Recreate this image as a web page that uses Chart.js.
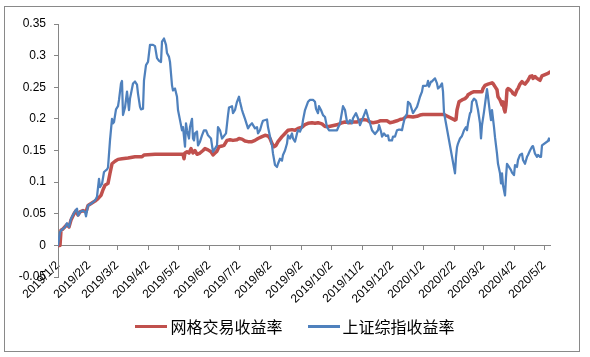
<!DOCTYPE html>
<html><head><meta charset="utf-8">
<script src="https://cdn.jsdelivr.net/npm/chart.js@4.4.0/dist/chart.umd.min.js"></script>
<style>
html,body{margin:0;padding:0;background:#fff;}
#wrap{position:relative;width:590px;height:357px;overflow:hidden;}
#frame{position:absolute;left:4px;top:6px;width:576px;height:346px;border:1px solid #898989;box-sizing:border-box;pointer-events:none;}
#c{position:absolute;left:0;top:0;}
#legend{position:absolute;left:0;top:316px;width:590px;height:20px;display:flex;justify-content:center;align-items:center;font-family:"Noto Sans CJK SC";font-size:16px;line-height:20px;color:#000;}
.item{display:flex;align-items:center;}
.swatch{width:32px;height:3px;margin-right:3px;}
.gap{width:25px;}
</style></head>
<body>
<div id="wrap">
<canvas id="c" width="590" height="357"></canvas>
<div id="frame"></div>
<div id="legend"></div>
</div>
<script>
const seriesNames = ['网格交易收益率', '上证综指收益率'];
const seriesColors = ['#C0504D', '#4F81BD'];

const xTickLabels = ['2019/1/2','2019/2/2','2019/3/2','2019/4/2','2019/5/2','2019/6/2','2019/7/2','2019/8/2','2019/9/2','2019/10/2','2019/11/2','2019/12/2','2020/1/2','2020/2/2','2020/3/2','2020/4/2','2020/5/2'];
const yTickValues = [-0.05,0,0.05,0.1,0.15,0.2,0.25,0.3,0.35];
const yTickLabels = ['-0.05','0','0.05','0.1','0.15','0.2','0.25','0.3','0.35'];
const firstDate = '2019/1/2';
const lastDate = '2020/5/8';

const gridDates = ['2019/1/2','2019/1/4','2019/1/5','2019/1/7','2019/1/11','2019/1/13','2019/1/15','2019/1/18','2019/1/20','2019/1/22','2019/1/24','2019/1/27','2019/1/30','2019/2/1','2019/2/8','2019/2/11','2019/2/14','2019/2/16','2019/2/18','2019/2/21','2019/2/23','2019/2/25','2019/2/28','2019/3/3','2019/3/7','2019/3/13','2019/3/20','2019/3/27','2019/3/29','2019/4/9','2019/5/7','2019/5/8','2019/5/9','2019/5/11','2019/5/13','2019/5/15','2019/5/17','2019/5/19','2019/5/21','2019/5/24','2019/5/27','2019/5/29','2019/6/1','2019/6/4','2019/6/6','2019/6/8','2019/6/10','2019/6/12','2019/6/15','2019/6/17','2019/6/20','2019/6/23','2019/6/26','2019/6/30','2019/7/2','2019/7/5','2019/7/8','2019/7/11','2019/7/15','2019/7/18','2019/7/21','2019/7/25','2019/7/28','2019/7/31','2019/8/2','2019/8/4','2019/8/6','2019/8/8','2019/8/10','2019/8/14','2019/8/17','2019/8/20','2019/8/24','2019/8/27','2019/8/30','2019/9/3','2019/9/6','2019/9/9','2019/9/13','2019/9/16','2019/9/19','2019/9/23','2019/9/26','2019/9/30','2019/10/9','2019/10/13','2019/10/16','2019/10/21','2019/10/24','2019/10/28','2019/10/31','2019/11/3','2019/11/7','2019/11/10','2019/11/13','2019/11/17','2019/11/20','2019/11/27','2019/11/30','2019/12/3','2019/12/7','2019/12/10','2019/12/13','2019/12/17','2019/12/23','2019/12/27','2019/12/30','2020/1/2','2020/1/23','2020/2/3','2020/2/4','2020/2/5','2020/2/7','2020/2/10','2020/2/13','2020/2/15','2020/2/16','2020/2/19','2020/2/22','2020/3/1','2020/3/2','2020/3/4','2020/3/7','2020/3/11','2020/3/12','2020/3/14','2020/3/16','2020/3/17','2020/3/19','2020/3/21','2020/3/22','2020/3/23','2020/3/24','2020/3/25','2020/3/26','2020/3/27','2020/3/29','2020/3/31','2020/4/1','2020/4/3','2020/4/5','2020/4/6','2020/4/8','2020/4/10','2020/4/11','2020/4/13','2020/4/15','2020/4/16','2020/4/18','2020/4/20','2020/4/21','2020/4/23','2020/4/25','2020/4/26','2020/4/28','2020/4/30','2020/5/6','2020/5/7','2020/5/8'];
const gridValues = [0,0,0.024,0.026,0.033,0.029,0.04,0.05,0.055,0.048,0.053,0.055,0.053,0.063,0.07,0.074,0.079,0.088,0.095,0.098,0.114,0.129,0.133,0.136,0.137,0.138,0.14,0.14,0.143,0.144,0.144,0.137,0.146,0.148,0.146,0.153,0.146,0.15,0.144,0.146,0.15,0.153,0.151,0.148,0.143,0.146,0.149,0.156,0.157,0.158,0.166,0.167,0.166,0.167,0.169,0.168,0.165,0.164,0.164,0.166,0.169,0.172,0.174,0.173,0.169,0.161,0.156,0.158,0.164,0.172,0.177,0.182,0.183,0.182,0.185,0.187,0.191,0.193,0.194,0.193,0.194,0.192,0.188,0.188,0.191,0.194,0.195,0.194,0.195,0.195,0.198,0.199,0.198,0.195,0.194,0.195,0.197,0.197,0.194,0.195,0.197,0.199,0.2,0.204,0.203,0.204,0.206,0.207,0.207,0.198,0.199,0.214,0.227,0.23,0.232,0.235,0.238,0.241,0.243,0.243,0.248,0.253,0.255,0.257,0.256,0.251,0.246,0.235,0.23,0.222,0.227,0.216,0.211,0.222,0.246,0.248,0.246,0.243,0.24,0.238,0.246,0.248,0.255,0.259,0.257,0.255,0.259,0.261,0.267,0.268,0.264,0.267,0.264,0.263,0.261,0.268,0.272,0.273,0.274];

const indexDates = ['2019/1/2','2019/1/4','2019/1/6','2019/1/9','2019/1/11','2019/1/13','2019/1/15','2019/1/17','2019/1/19','2019/1/21','2019/1/22','2019/1/25','2019/1/27','2019/1/29','2019/1/30','2019/2/1','2019/2/5','2019/2/8','2019/2/10','2019/2/12','2019/2/13','2019/2/15','2019/2/17','2019/2/20','2019/2/21','2019/2/23','2019/2/25','2019/2/26','2019/2/27','2019/3/1','2019/3/3','2019/3/4','2019/3/6','2019/3/7','2019/3/8','2019/3/10','2019/3/12','2019/3/14','2019/3/15','2019/3/18','2019/3/20','2019/3/22','2019/3/23','2019/3/25','2019/3/26','2019/3/28','2019/3/29','2019/3/31','2019/4/2','2019/4/4','2019/4/7','2019/4/9','2019/4/11','2019/4/13','2019/4/15','2019/4/16','2019/4/18','2019/4/20','2019/4/21','2019/4/23','2019/4/24','2019/4/26','2019/4/27','2019/4/29','2019/5/1','2019/5/2','2019/5/4','2019/5/6','2019/5/7','2019/5/9','2019/5/10','2019/5/11','2019/5/13','2019/5/14','2019/5/16','2019/5/17','2019/5/18','2019/5/19','2019/5/21','2019/5/22','2019/5/24','2019/5/26','2019/5/28','2019/5/30','2019/6/1','2019/6/4','2019/6/5','2019/6/6','2019/6/8','2019/6/10','2019/6/11','2019/6/13','2019/6/15','2019/6/16','2019/6/19','2019/6/21','2019/6/22','2019/6/25','2019/6/26','2019/6/28','2019/6/30','2019/7/2','2019/7/3','2019/7/5','2019/7/6','2019/7/8','2019/7/11','2019/7/13','2019/7/15','2019/7/18','2019/7/20','2019/7/21','2019/7/23','2019/7/25','2019/7/26','2019/7/30','2019/7/31','2019/8/2','2019/8/4','2019/8/5','2019/8/7','2019/8/9','2019/8/10','2019/8/12','2019/8/14','2019/8/15','2019/8/17','2019/8/19','2019/8/20','2019/8/22','2019/8/24','2019/8/25','2019/8/27','2019/8/29','2019/8/30','2019/9/1','2019/9/3','2019/9/4','2019/9/6','2019/9/9','2019/9/11','2019/9/13','2019/9/14','2019/9/16','2019/9/17','2019/9/19','2019/9/20','2019/9/22','2019/9/24','2019/9/26','2019/9/28','2019/9/30','2019/10/8','2019/10/11','2019/10/13','2019/10/14','2019/10/16','2019/10/18','2019/10/19','2019/10/21','2019/10/23','2019/10/24','2019/10/27','2019/10/29','2019/10/31','2019/11/2','2019/11/4','2019/11/6','2019/11/8','2019/11/10','2019/11/12','2019/11/13','2019/11/15','2019/11/17','2019/11/18','2019/11/19','2019/11/21','2019/11/22','2019/11/24','2019/11/26','2019/11/28','2019/11/29','2019/12/2','2019/12/3','2019/12/5','2019/12/7','2019/12/9','2019/12/10','2019/12/12','2019/12/13','2019/12/15','2019/12/17','2019/12/18','2019/12/20','2019/12/22','2019/12/23','2019/12/25','2019/12/27','2019/12/28','2019/12/30','2020/1/1','2020/1/2','2020/1/4','2020/1/6','2020/1/7','2020/1/8','2020/1/10','2020/1/11','2020/1/12','2020/1/14','2020/1/16','2020/1/17','2020/1/19','2020/1/21','2020/1/22','2020/1/23','2020/2/3','2020/2/4','2020/2/5','2020/2/6','2020/2/8','2020/2/10','2020/2/12','2020/2/14','2020/2/15','2020/2/16','2020/2/18','2020/2/19','2020/2/20','2020/2/22','2020/2/24','2020/2/26','2020/2/28','2020/2/29','2020/3/1','2020/3/3','2020/3/5','2020/3/6','2020/3/7','2020/3/9','2020/3/10','2020/3/11','2020/3/13','2020/3/14','2020/3/16','2020/3/17','2020/3/19','2020/3/20','2020/3/21','2020/3/22','2020/3/24','2020/3/25','2020/3/26','2020/3/28','2020/3/30','2020/3/31','2020/4/2','2020/4/3','2020/4/5','2020/4/6','2020/4/8','2020/4/10','2020/4/11','2020/4/13','2020/4/15','2020/4/16','2020/4/18','2020/4/20','2020/4/21','2020/4/23','2020/4/25','2020/4/26','2020/4/28','2020/4/29','2020/4/30','2020/5/6','2020/5/7','2020/5/8'];
const indexValues = [0,0.021,0.025,0.029,0.035,0.029,0.042,0.048,0.054,0.058,0.047,0.054,0.055,0.053,0.046,0.063,0.067,0.071,0.077,0.105,0.092,0.097,0.116,0.12,0.123,0.166,0.2,0.193,0.195,0.215,0.22,0.23,0.256,0.26,0.206,0.218,0.243,0.214,0.232,0.256,0.259,0.254,0.24,0.219,0.215,0.216,0.261,0.285,0.29,0.317,0.317,0.315,0.296,0.292,0.29,0.322,0.327,0.317,0.304,0.298,0.29,0.253,0.245,0.248,0.235,0.214,0.198,0.182,0.187,0.156,0.193,0.182,0.169,0.187,0.2,0.169,0.166,0.177,0.18,0.158,0.164,0.174,0.182,0.182,0.174,0.169,0.158,0.148,0.153,0.158,0.187,0.182,0.169,0.171,0.177,0.206,0.218,0.22,0.209,0.214,0.227,0.235,0.227,0.214,0.209,0.2,0.185,0.19,0.193,0.185,0.187,0.177,0.182,0.193,0.197,0.199,0.187,0.172,0.158,0.145,0.127,0.124,0.129,0.137,0.134,0.143,0.15,0.161,0.174,0.169,0.177,0.169,0.164,0.177,0.182,0.18,0.187,0.198,0.214,0.227,0.23,0.23,0.23,0.227,0.216,0.209,0.22,0.214,0.206,0.203,0.187,0.182,0.182,0.193,0.211,0.22,0.214,0.195,0.193,0.198,0.193,0.201,0.209,0.201,0.19,0.198,0.206,0.214,0.203,0.193,0.182,0.18,0.176,0.18,0.182,0.19,0.18,0.172,0.177,0.173,0.174,0.166,0.166,0.172,0.172,0.182,0.183,0.183,0.182,0.19,0.203,0.208,0.227,0.224,0.214,0.209,0.214,0.219,0.224,0.235,0.243,0.252,0.252,0.253,0.26,0.251,0.259,0.259,0.261,0.264,0.256,0.248,0.251,0.256,0.243,0.21,0.114,0.14,0.155,0.161,0.169,0.173,0.182,0.187,0.182,0.193,0.209,0.211,0.227,0.232,0.229,0.214,0.193,0.169,0.19,0.211,0.235,0.247,0.235,0.209,0.198,0.214,0.187,0.171,0.145,0.129,0.114,0.098,0.114,0.095,0.079,0.108,0.129,0.124,0.119,0.115,0.111,0.127,0.124,0.135,0.143,0.145,0.135,0.129,0.14,0.143,0.15,0.156,0.157,0.145,0.14,0.143,0.14,0.14,0.158,0.165,0.169,0.166];

function dayOf(s){
  const p = s.split('/').map(Number);
  const p0 = firstDate.split('/').map(Number);
  return Math.round((Date.UTC(p[0],p[1]-1,p[2]) - Date.UTC(p0[0],p0[1]-1,p0[2])) / 86400000);
}
function toPoints(dates, values){ return dates.map((d,i)=>({x:dayOf(d), y:values[i]})); }

const axisGrey = '#868686';
const tickFont = {family:'"Liberation Sans", Arial, sans-serif', size:12};

new Chart(document.getElementById('c'), {
  type:'line',
  data:{datasets:[
    {label:seriesNames[0], data:toPoints(gridDates, gridValues), borderColor:seriesColors[0], backgroundColor:seriesColors[0], borderWidth:3.5, pointRadius:0, tension:0, borderJoinStyle:'round', borderCapStyle:'round', order:1},
    {label:seriesNames[1], data:toPoints(indexDates, indexValues), borderColor:seriesColors[1], backgroundColor:seriesColors[1], borderWidth:2.25, pointRadius:0, tension:0, borderJoinStyle:'round', borderCapStyle:'round', order:0}
  ]},
  options:{
    responsive:false, animation:false, devicePixelRatio:1,
    layout:{padding:{top:24,right:40,bottom:80,left:0}},
    plugins:{legend:{display:false}, tooltip:{enabled:false}},
    scales:{
      x:{type:'linear', position:{y:0}, min:0, max:dayOf(lastDate),
        afterBuildTicks:(s)=>{ s.ticks = xTickLabels.map(d=>({value:dayOf(d)})); },
        ticks:{autoSkip:false, minRotation:45, maxRotation:45, padding:9, font:tickFont, color:'#000',
          callback:(v,i)=>xTickLabels[i]},
        grid:{display:true, drawOnChartArea:false, drawTicks:true, tickLength:4, color:axisGrey},
        border:{display:true, color:axisGrey, width:1}
      },
      y:{type:'linear', min:-0.05, max:0.35,
        afterBuildTicks:(s)=>{ s.ticks = yTickValues.map(v=>({value:v})); },
        afterFit:(s)=>{ s.width = 58; },
        ticks:{padding:8, font:tickFont, color:'#000', callback:(v,i)=>yTickLabels[i]},
        grid:{display:true, drawOnChartArea:false, drawTicks:true, tickLength:4, color:axisGrey},
        border:{display:true, color:axisGrey, width:1}
      }
    }
  }
});

const legend = document.getElementById('legend');
seriesNames.forEach((name,i)=>{
  if(i>0){ const g=document.createElement('div'); g.className='gap'; legend.appendChild(g); }
  const item = document.createElement('div'); item.className='item';
  const sw = document.createElement('div'); sw.className='swatch'; sw.style.background=seriesColors[i];
  const tx = document.createElement('span'); tx.textContent = name;
  item.appendChild(sw); item.appendChild(tx); legend.appendChild(item);
});
</script>
</body></html>
